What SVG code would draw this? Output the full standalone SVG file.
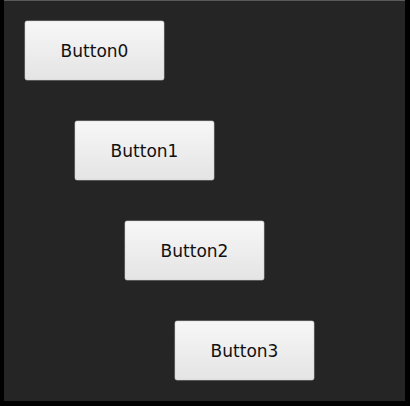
<svg xmlns="http://www.w3.org/2000/svg" width="410" height="406" viewBox="0 0 410 406">
<defs>
<linearGradient id="btnGrad" x1="0" y1="0" x2="0" y2="1">
<stop offset="0" stop-color="#f7f7f7"/>
<stop offset="1" stop-color="#e4e4e4"/>
</linearGradient>
</defs>
<style>
.btn{fill:url(#btnGrad);stroke:#d0d0d0;stroke-width:0.6}
.lbl{font-family:"DejaVu Sans",Verdana,sans-serif;font-size:17px;fill:#111;text-anchor:middle}
</style>
<rect x="0" y="0" width="410" height="406" fill="#000"/>
<rect x="4" y="0" width="401" height="1" fill="#5a5a5a"/>
<rect x="4" y="1" width="401" height="400" fill="#252525"/>
<g id="connectors"></g>
<g id="button0">
<rect class="btn" x="25" y="21" width="139" height="59" rx="2"/>
<text class="lbl" x="94.5" y="56.5">Button0</text>
</g>
<g id="button1">
<rect class="btn" x="75" y="121" width="139" height="59" rx="2"/>
<text class="lbl" x="144.5" y="156.5">Button1</text>
</g>
<g id="button2">
<rect class="btn" x="125" y="221" width="139" height="59" rx="2"/>
<text class="lbl" x="194.5" y="256.5">Button2</text>
</g>
<g id="button3">
<rect class="btn" x="175" y="321" width="139" height="59" rx="2"/>
<text class="lbl" x="244.5" y="356.5">Button3</text>
</g>
</svg>
